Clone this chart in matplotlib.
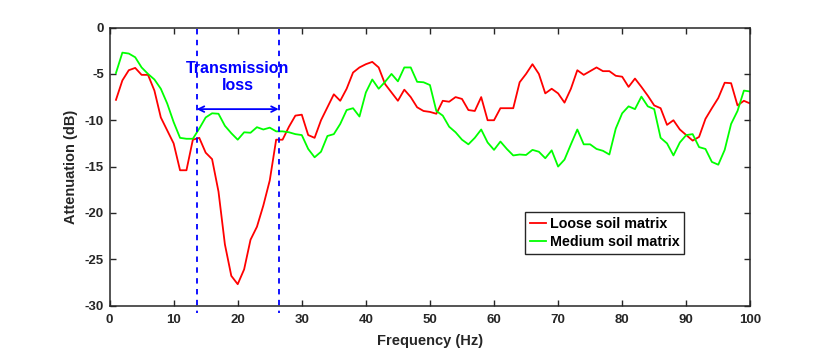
import numpy as np
import matplotlib
matplotlib.use('Agg')
import matplotlib.pyplot as plt

plt.rcParams['font.family'] = ['Liberation Sans', 'DejaVu Sans']
plt.rcParams['font.weight'] = 'bold'
plt.rcParams['axes.unicode_minus'] = False

# Frequency axis (Hz)
freq = np.arange(1, 101)

# Loose soil matrix attenuation (dB)
loose = [-7.8, -5.7, -4.6, -4.35, -5.1, -5.1, -6.8, -9.7, -11.1, -12.5,
         -15.4, -15.4, -12.1, -11.9, -13.5, -14.2, -17.7, -23.4, -26.8, -27.7,
         -26.1, -22.9, -21.5, -19.2, -16.5, -12.1, -12.1, -10.7, -9.5, -9.4,
         -11.6, -11.9, -10.0, -8.6, -7.2, -7.9, -6.6, -4.85, -4.3, -3.95,
         -3.7, -4.3, -6.1, -7.0, -7.9, -6.7, -7.5, -8.6, -9.0, -9.1,
         -9.3, -7.9, -8.0, -7.5, -7.7, -8.9, -9.0, -7.5, -10.0, -10.0,
         -8.7, -8.7, -8.7, -5.9, -5.0, -3.95, -5.0, -7.1, -6.6, -7.1,
         -8.1, -6.6, -4.6, -5.1, -4.7, -4.3, -4.7, -4.7, -5.2, -5.3,
         -6.4, -5.5, -6.4, -7.35, -8.4, -8.7, -10.5, -10.0, -11.0, -11.6,
         -12.2, -11.8, -9.85, -8.7, -7.6, -5.95, -6.0, -8.4, -7.9, -8.2]

# Medium soil matrix attenuation (dB)
medium = [-4.9, -2.7, -2.8, -3.2, -4.3, -5.0, -5.6, -6.6, -8.2, -10.2,
          -11.9, -12.0, -12.0, -10.9, -9.7, -9.25, -9.3, -10.6, -11.4, -12.1,
          -11.3, -11.35, -10.75, -11.0, -10.8, -11.2, -11.2, -11.3, -11.5, -11.6,
          -13.1, -14.0, -13.4, -11.7, -11.5, -10.4, -8.9, -8.7, -9.6, -7.0,
          -5.6, -6.6, -5.85, -5.0, -5.8, -4.3, -4.3, -5.85, -5.9, -6.2,
          -9.0, -9.5, -10.7, -11.3, -12.1, -12.6, -11.9, -11.0, -12.4, -13.2,
          -12.3, -13.1, -13.8, -13.7, -13.75, -13.2, -13.4, -14.1, -13.25, -15.0,
          -14.25, -12.6, -11.0, -12.6, -12.6, -13.1, -13.3, -13.7, -10.9, -9.25,
          -8.5, -8.8, -7.45, -8.5, -8.8, -11.9, -12.5, -13.8, -12.4, -11.6,
          -11.5, -12.9, -13.1, -14.5, -14.8, -13.2, -10.4, -9.0, -6.8, -6.9]

# Transmission loss band (Hz)
band = [13.6, 26.4]
arrow_y = -8.8

fig = plt.figure(figsize=(8.3, 3.54), dpi=100)
ax = fig.add_axes([0.132, 0.137, 0.772, 0.785])

ax.plot(freq, loose, color='#ff0000', lw=1.3, label='Loose soil matrix')
ax.plot(freq, medium, color='#00ff00', lw=1.3, label='Medium soil matrix')

# dashed band edges
for b in band:
    ax.plot([b, b], [-0.1, -30.8], color='#0000ff', ls=(0, (3, 3)), lw=1.3, clip_on=False)

ax.annotate('', xy=(band[0], arrow_y), xytext=(band[1], arrow_y),
            arrowprops=dict(arrowstyle='<->', color='#0000ff', lw=1.3, mutation_scale=10,
                            shrinkA=0, shrinkB=0))
ax.text(np.mean(band), -5.3, 'Transmission\nloss', color='#0000ff', fontsize=11.5,
        fontweight='bold', ha='center', va='center', linespacing=1.2)

ax.set_xlim(0, 100)
ax.set_ylim(-30, 0)
ax.set_xticks(np.arange(0, 101, 10))
ax.set_yticks(np.arange(-30, 1, 5))
ax.tick_params(direction='in', top=True, right=True, length=4, width=1, labelsize=9.5,
               colors='#262626')
ax.tick_params(axis='x', pad=6)
ax.tick_params(axis='y', pad=4)
for s in ax.spines.values():
    s.set_color('#262626')
    s.set_linewidth(1.1)

ax.set_xlabel('Frequency (Hz)', fontsize=10.5, fontweight='bold', color='#262626', labelpad=6)
ax.set_ylabel('Attenuation (dB)', fontsize=10.5, fontweight='bold', color='#262626', labelpad=5)

leg = ax.legend(loc='upper left', bbox_to_anchor=(0.649, 0.337), borderaxespad=0,
                fontsize=10.3, handlelength=1.1, handletextpad=0.25, labelspacing=0.3,
                borderpad=0.35, fancybox=False, framealpha=1)
leg.get_frame().set_edgecolor('#262626')
leg.get_frame().set_linewidth(1.0)

fig.savefig('out.png', dpi=100)
